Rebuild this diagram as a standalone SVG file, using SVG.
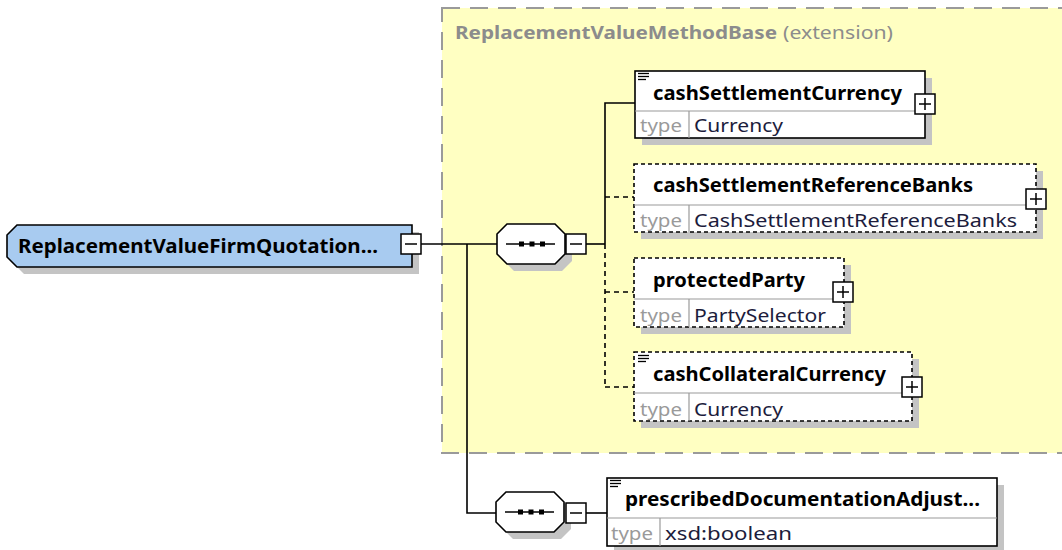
<svg xmlns="http://www.w3.org/2000/svg" width="1062" height="550" viewBox="0 0 1062 550">
<style>
.shadow{fill:#c4c4c4;stroke:none}
.box{fill:#fff;stroke:#000;stroke-width:1.6}
.dbox{fill:#fff;stroke:#000;stroke-width:1.6;stroke-dasharray:4 3}
.sep{stroke:#9a9a9a;stroke-width:1.2;fill:none}
.name{font-family:"Noto Sans","Open Sans","DejaVu Sans",sans-serif;font-weight:bold;font-size:19px;fill:#000}
.tlabel{font-family:"Noto Sans","Open Sans","DejaVu Sans",sans-serif;font-size:18px;fill:#9a9a9a}
.tval{font-family:"Noto Sans","Open Sans","DejaVu Sans",sans-serif;font-size:18px;fill:#1c1c3c}
.title{font-family:"Noto Sans","Open Sans","DejaVu Sans",sans-serif;font-size:18px;fill:#8c8c8c}
.btn{fill:#fff;stroke:#000;stroke-width:1.5}
.glyph{stroke:#000;stroke-width:1.5;fill:none}
.conn{stroke:#000;stroke-width:1.6;fill:none}
.dconn{stroke:#000;stroke-width:1.6;fill:none;stroke-dasharray:5 4}
.doc{stroke:#000;stroke-width:1.3}
</style>
<defs>
<g id="seqicon">
<polygon class="shadow" points="17,7 65,7 75,17 75,37 65,47 17,47 7,37 7,17"/>
<polygon class="box" points="10,0 58,0 68,10 68,30 58,40 10,40 0,30 0,10"/>
<line class="glyph" x1="9" y1="20" x2="58" y2="20"/>
<rect x="22" y="17.5" width="5" height="5" fill="#000"/>
<rect x="32.5" y="17.5" width="5" height="5" fill="#000"/>
<rect x="43" y="17.5" width="5" height="5" fill="#000"/>
</g>
<g id="minus">
<rect class="btn" x="0" y="0" width="20" height="20"/>
<line class="glyph" x1="4" y1="10" x2="16" y2="10"/>
</g>
<g id="plus">
<rect class="btn" x="0" y="0" width="20" height="20"/>
<line class="glyph" x1="4" y1="10" x2="16" y2="10"/>
<line class="glyph" x1="10" y1="4" x2="10" y2="16"/>
</g>
<g id="docicon">
<line class="doc" x1="0" y1="0.5" x2="11" y2="0.5"/>
<line class="doc" x1="0" y1="3.5" x2="11" y2="3.5"/>
<line class="doc" x1="0" y1="6.5" x2="8" y2="6.5"/>
</g>
</defs>

<g id="extension-ReplacementValueMethodBase">
<rect x="442" y="8" width="640" height="445" fill="#FFFFC2" stroke="#9a9a9a" stroke-width="2" stroke-dasharray="18 10"/>
<text class="title" x="455" y="39"><tspan font-weight="bold" textLength="322" lengthAdjust="spacingAndGlyphs">ReplacementValueMethodBase</tspan></text>
<text class="title" x="783" y="39" textLength="110" lengthAdjust="spacingAndGlyphs">(extension)</text>
</g>

<g id="connectors">
<line class="conn" x1="421" y1="244" x2="497" y2="244"/>
<polyline class="conn" points="467,244 467,513 496,513"/>
<line class="conn" x1="585" y1="244" x2="605" y2="244"/>
<polyline class="conn" points="635,103 605,103 605,244"/>
<line class="dconn" x1="605" y1="244" x2="605" y2="387"/>
<line class="dconn" x1="605" y1="197" x2="634" y2="197"/>
<line class="dconn" x1="605" y1="292" x2="634" y2="292"/>
<line class="dconn" x1="605" y1="387" x2="634" y2="387"/>
<line class="conn" x1="586" y1="513" x2="607" y2="513"/>
</g>

<g id="root-ReplacementValueFirmQuotation">
<polygon class="shadow" points="24,232 419,232 419,274 24,274 14,264 14,242"/>
<polygon fill="#A8CBF0" stroke="#000" stroke-width="1.6" points="17,225 412,225 412,267 17,267 7,257 7,235"/>
<text class="name" x="18" y="253" textLength="360" lengthAdjust="spacingAndGlyphs">ReplacementValueFirmQuotation...</text>
<use href="#minus" x="401" y="234"/>
</g>

<g id="sequence-1">
<use href="#seqicon" x="497" y="224"/>
<use href="#minus" x="566" y="234"/>
</g>

<g id="sequence-2">
<use href="#seqicon" x="496" y="492"/>
<use href="#minus" x="566" y="503"/>
</g>

<g id="cashSettlementCurrency">
<rect class="shadow" x="642" y="78" width="290" height="67"/>
<rect class="box" x="635" y="71" width="290" height="67"/>
<line class="sep" x1="635" y1="111" x2="925" y2="111"/>
<line class="sep" x1="689" y1="111" x2="689" y2="138"/>
<use href="#docicon" x="638" y="73"/>
<text class="name" x="653" y="100" textLength="249" lengthAdjust="spacingAndGlyphs">cashSettlementCurrency</text>
<text class="tlabel" x="640" y="132" textLength="42" lengthAdjust="spacingAndGlyphs">type</text>
<text class="tval" x="694" y="132" textLength="89" lengthAdjust="spacingAndGlyphs">Currency</text>
<use href="#plus" x="915" y="94"/>
</g>

<g id="cashSettlementReferenceBanks">
<rect class="shadow" x="641" y="171" width="402" height="68"/>
<rect class="dbox" x="634" y="164" width="402" height="68"/>
<line class="sep" x1="634" y1="205" x2="1036" y2="205"/>
<line class="sep" x1="689" y1="205" x2="689" y2="232"/>
<text class="name" x="653" y="192" textLength="320" lengthAdjust="spacingAndGlyphs">cashSettlementReferenceBanks</text>
<text class="tlabel" x="640" y="227" textLength="42" lengthAdjust="spacingAndGlyphs">type</text>
<text class="tval" x="694" y="227" textLength="323" lengthAdjust="spacingAndGlyphs">CashSettlementReferenceBanks</text>
<use href="#plus" x="1026" y="189"/>
</g>

<g id="protectedParty">
<rect class="shadow" x="641" y="265" width="210" height="69"/>
<rect class="dbox" x="634" y="258" width="210" height="69"/>
<line class="sep" x1="634" y1="299" x2="844" y2="299"/>
<line class="sep" x1="689" y1="299" x2="689" y2="327"/>
<text class="name" x="653" y="287" textLength="152" lengthAdjust="spacingAndGlyphs">protectedParty</text>
<text class="tlabel" x="640" y="322" textLength="42" lengthAdjust="spacingAndGlyphs">type</text>
<text class="tval" x="694" y="322" textLength="132" lengthAdjust="spacingAndGlyphs">PartySelector</text>
<use href="#plus" x="833" y="282"/>
</g>

<g id="cashCollateralCurrency">
<rect class="shadow" x="641" y="359" width="278" height="69"/>
<rect class="dbox" x="634" y="352" width="278" height="69"/>
<line class="sep" x1="634" y1="393" x2="912" y2="393"/>
<line class="sep" x1="689" y1="393" x2="689" y2="421"/>
<use href="#docicon" x="638" y="355"/>
<text class="name" x="653" y="381" textLength="233" lengthAdjust="spacingAndGlyphs">cashCollateralCurrency</text>
<text class="tlabel" x="640" y="416" textLength="42" lengthAdjust="spacingAndGlyphs">type</text>
<text class="tval" x="694" y="416" textLength="89" lengthAdjust="spacingAndGlyphs">Currency</text>
<use href="#plus" x="902" y="377"/>
</g>

<g id="prescribedDocumentationAdjustment">
<rect class="shadow" x="614" y="485" width="390" height="68"/>
<rect class="box" x="607" y="478" width="390" height="68"/>
<line class="sep" x1="607" y1="518" x2="997" y2="518"/>
<line class="sep" x1="660" y1="518" x2="660" y2="546"/>
<use href="#docicon" x="610" y="480"/>
<text class="name" x="625" y="506" textLength="355" lengthAdjust="spacingAndGlyphs">prescribedDocumentationAdjust...</text>
<text class="tlabel" x="611" y="540" textLength="42" lengthAdjust="spacingAndGlyphs">type</text>
<text class="tval" x="665" y="540" textLength="127" lengthAdjust="spacingAndGlyphs">xsd:boolean</text>
</g>
</svg>
